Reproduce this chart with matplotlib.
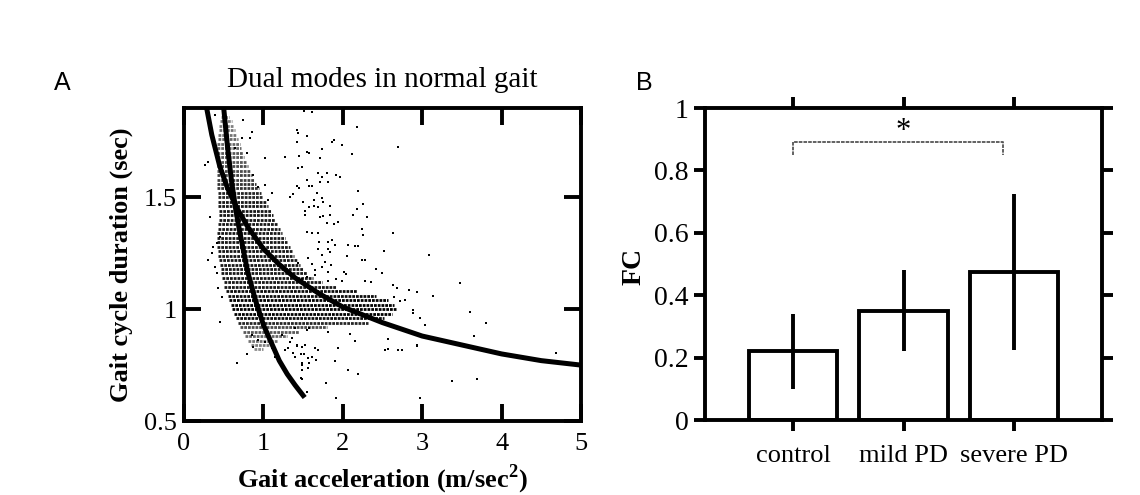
import matplotlib
matplotlib.use('Agg')
import matplotlib.pyplot as plt

plt.rcParams['font.family'] = ['Liberation Serif', 'DejaVu Serif']
plt.rcParams['mathtext.fontset'] = 'custom'
plt.rcParams['mathtext.rm'] = 'Liberation Serif'
plt.rcParams['mathtext.bf'] = 'Liberation Serif:bold'

# ---------------- Panel A data ----------------
# Fitted curves
curve1_x = [0.50, 0.55, 0.60, 0.65, 0.70, 0.80, 0.90, 1.00, 1.10, 1.20, 1.30, 1.40, 1.52]
curve1_y = [1.90, 1.72, 1.57, 1.45, 1.35, 1.17, 1.04, 0.93, 0.85, 0.77, 0.71, 0.66, 0.605]
curve2_x = [0.285, 0.35, 0.45, 0.55, 0.67, 0.80, 1.00, 1.20, 1.40, 1.70, 2.00, 2.50, 3.00, 3.50, 4.00, 4.50, 5.00]
curve2_y = [1.90, 1.78, 1.64, 1.54, 1.45, 1.37, 1.27, 1.20, 1.14, 1.07, 1.01, 0.94, 0.88, 0.84, 0.80, 0.77, 0.75]

# Dense core of the cloud: quantised duration rows with their x extent and darkness
core_y = [1.86, 1.84, 1.82, 1.80, 1.78, 1.76, 1.74, 1.72, 1.70, 1.68, 1.66, 1.64, 1.62,
          1.60, 1.58, 1.56, 1.54, 1.52, 1.50, 1.48, 1.46, 1.44, 1.42, 1.40, 1.38, 1.36,
          1.34, 1.32, 1.30, 1.28, 1.26, 1.24, 1.22, 1.20, 1.18, 1.16, 1.14, 1.12, 1.10,
          1.08, 1.06, 1.04, 1.02, 1.00, 0.98, 0.96, 0.94, 0.92, 0.90, 0.88, 0.86, 0.84, 0.82]
core_xmin = [0.47, 0.45, 0.44, 0.44, 0.43, 0.43, 0.42, 0.42, 0.42, 0.42, 0.41, 0.41, 0.41,
             0.41, 0.42, 0.42, 0.42, 0.43, 0.43, 0.43, 0.43, 0.44, 0.44, 0.44, 0.43, 0.43,
             0.42, 0.42, 0.42, 0.42, 0.43, 0.43, 0.44, 0.45, 0.46, 0.47, 0.48, 0.50, 0.51,
             0.53, 0.55, 0.57, 0.59, 0.61, 0.63, 0.65, 0.68, 0.71, 0.74, 0.77, 0.80, 0.84, 0.88]
core_xmax = [0.57, 0.60, 0.62, 0.64, 0.66, 0.68, 0.70, 0.72, 0.74, 0.76, 0.78, 0.80, 0.83,
             0.86, 0.88, 0.91, 0.94, 0.97, 1.00, 1.03, 1.06, 1.09, 1.12, 1.15, 1.18, 1.21,
             1.24, 1.27, 1.30, 1.33, 1.36, 1.39, 1.42, 1.46, 1.50, 1.55, 1.62, 1.74, 1.92,
             2.18, 2.42, 2.57, 2.64, 2.67, 2.62, 2.52, 2.32, 1.80, 1.45, 1.30, 1.18, 1.08, 1.00]
core_dark = [0.45, 0.50, 0.50, 0.55, 0.55, 0.60, 0.60, 0.60, 0.65, 0.65, 0.65, 0.70, 0.70,
             0.75, 0.75, 0.80, 0.80, 0.85, 0.85, 0.90, 0.90, 0.90, 0.90, 0.90, 0.90, 0.90,
             0.90, 0.90, 0.90, 0.90, 0.90, 0.90, 0.90, 0.90, 0.90, 0.90, 0.90, 0.90, 0.90,
             0.95, 0.95, 1.00, 1.00, 1.00, 1.00, 0.95, 0.85, 0.70, 0.65, 0.60, 0.55, 0.50, 0.45]

# Sparse individual points
pts_x = [1.43, 1.55, 1.42, 1.89, 1.86, 1.99, 2.18, 2.70, 1.74, 1.55, 1.57, 2.11, 1.45, 1.71,
         1.48, 1.43, 1.69, 1.80, 1.74, 1.92, 1.97, 1.55, 1.71, 1.81, 1.42, 1.58, 1.61, 1.45,
         2.19, 1.67, 1.74, 1.64, 1.50, 1.75, 2.25, 1.58, 1.64, 1.69, 1.84, 2.18, 1.53, 1.51,
         1.61,
         1.52, 2.13, 2.30, 1.71, 1.75, 1.84, 1.80, 1.89, 1.94, 2.24, 2.25, 1.55, 1.61, 1.69,
         2.63, 1.70, 1.81, 1.86, 1.90, 2.06, 2.15, 2.19, 1.69, 1.81, 1.84, 2.52, 1.74, 2.05,
         1.56, 1.43, 1.61, 1.77, 2.24, 2.28, 1.85, 1.74, 1.65, 1.81, 2.01, 2.04, 2.42, 2.50,
         1.55, 1.65, 1.81, 1.92, 1.99, 2.28, 2.36, 1.48, 2.63, 2.68, 2.84, 2.93, 2.78, 2.65,
         2.72, 2.88, 2.97,
         1.40, 1.55, 1.58, 1.81, 2.09, 1.42, 1.48, 1.52, 1.65, 1.69, 1.94, 2.15, 2.57, 2.53,
         2.69, 2.74, 2.94, 1.47, 1.51, 1.61, 1.56, 1.66, 1.90, 1.58, 1.48, 1.56, 1.48, 2.06,
         2.19, 1.48, 1.79, 1.55, 1.92, 2.97,
         0.45, 0.87, 0.79, 0.67, 1.31, 1.27, 1.37, 1.40, 1.14, 1.48, 1.47, 0.93, 1.02, 0.86,
         1.23, 1.36, 1.42, 1.11, 1.33,
         0.33, 0.42, 0.30, 0.39, 0.43, 0.48, 0.37, 0.45, 0.35, 0.42,
         0.26, 0.30, 0.74, 0.79, 1.02, 1.27, 0.86, 0.39, 1.42, 1.37, 1.33, 0.93, 1.11, 1.06,
         0.87, 1.02, 0.83, 0.73, 0.64,
         3.09, 3.47, 3.60, 3.80, 3.65, 3.37, 3.69, 2.93, 4.69, 3.13, 2.89, 3.03, 2.57]
pts_y = [1.788, 1.775, 1.748, 1.757, 1.748, 1.735, 1.815, 1.726, 1.717, 1.703, 1.699, 1.694,
         1.685, 1.676, 1.636, 1.632, 1.609, 1.609, 1.591, 1.600, 1.591, 1.578, 1.569, 1.569,
         1.551, 1.551, 1.551, 1.542, 1.529, 1.520, 1.497, 1.489, 1.480, 1.480, 1.471, 1.457,
         1.462, 1.457, 1.462, 1.448, 1.439, 1.887, 1.882,
         1.421, 1.421, 1.412, 1.412, 1.417, 1.421, 1.386, 1.381, 1.390, 1.359, 1.332, 1.345,
         1.341, 1.341, 1.341, 1.301, 1.301, 1.310, 1.287, 1.287, 1.283, 1.283, 1.269, 1.269,
         1.256, 1.260, 1.243, 1.238, 1.229, 1.207, 1.202, 1.211, 1.220, 1.220, 1.198, 1.189,
         1.175, 1.166, 1.166, 1.158, 1.180, 1.162, 1.144, 1.153, 1.126, 1.135, 1.126, 1.126,
         1.122, 1.135, 1.108, 1.095, 1.086, 1.077, 1.041, 1.055, 1.037, 0.997, 0.961,
         0.916, 0.907, 0.916, 0.898, 0.889, 0.840, 0.831, 0.840, 0.827, 0.818, 0.827, 0.858,
         0.867, 0.818, 0.818, 0.818, 0.835, 0.800, 0.800, 0.786, 0.782, 0.773, 0.768, 0.759,
         0.759, 0.737, 0.728, 0.728, 0.710, 0.688, 0.670, 0.630, 0.603, 0.603,
         0.943, 0.831, 0.800, 0.759, 0.827, 0.818, 0.804, 0.786, 0.786, 0.750, 0.692, 0.862,
         0.853, 0.885, 0.885, 0.871, 0.835, 0.827, 0.853,
         1.412, 1.296, 1.220, 1.189, 1.095, 1.055, 1.278, 1.323, 1.251, 1.162,
         1.645, 1.658, 1.846, 1.699, 1.676, 1.681, 1.793, 1.869, 1.802, 1.515, 1.502, 1.547,
         1.520, 1.489, 1.600, 1.556, 1.766, 1.766, 1.721,
         1.243, 1.117, 0.988, 0.938, 0.880, 0.680, 0.688, 0.840, 0.804, 1.059, 0.983, 0.930,
         0.822]

xticks_A = [0, 1, 2, 3, 4, 5]
yticks_A = [0.5, 1, 1.5]
yticklabels_A = ['0.5', '1', '1.5']

# ---------------- Panel B data ----------------
categories = ['control', 'mild PD', 'severe PD']
fc_mean = [0.22, 0.35, 0.475]
fc_err = [0.12, 0.13, 0.25]
yticks_B = [0, 0.2, 0.4, 0.6, 0.8, 1.0]
yticklabels_B = ['0', '0.2', '0.4', '0.6', '0.8', '1']
sig_pair = (1, 2.9)
sig_y = 0.89
sig_drop = 0.85

W, H = 1140, 495
fig = plt.figure(figsize=(W / 100, H / 100), dpi=100)

SPW = 2.8

# ---------------- Panel A ----------------
axA = fig.add_axes([184 / W, 1 - 421 / H, (581 - 184) / W, (421 - 108) / H])
for yv, x0, x1, d in zip(core_y, core_xmin, core_xmax, core_dark):
    axA.hlines(yv, x0, x1, colors='black', alpha=d, linewidth=2.0,
               linestyles=[(0, (1.0, 0.35))], zorder=1)
axA.scatter(pts_x, pts_y, s=2.2, marker='s', color='black', linewidths=0, zorder=2)
axA.plot(curve1_x, curve1_y, color='black', lw=3.6, solid_capstyle='butt', zorder=3)
axA.plot(curve2_x, curve2_y, color='black', lw=3.6, solid_capstyle='butt', zorder=3)
axA.set_xlim(0, 5)
axA.set_ylim(0.5, 1.9)
axA.set_xticks(xticks_A)
axA.set_xticklabels([str(v) for v in xticks_A])
axA.set_yticks(yticks_A)
axA.set_yticklabels(yticklabels_A)
axA.tick_params(direction='in', length=12, width=SPW, top=True, right=True,
                labelsize=19)
axA.tick_params(axis='x', pad=9)
axA.tick_params(axis='y', pad=5)
for s in axA.spines.values():
    s.set_linewidth(SPW)

fig.text(382 / W, 1 - 87 / H, 'Dual modes in normal gait', ha='center', va='baseline',
         fontsize=21)
fig.text(121 / W, 1 - 265 / H, 'Gait cycle duration (sec)', rotation=90, ha='center',
         va='center', fontsize=19, fontweight='bold')
fig.text(382 / W, 1 - 479 / H, r'Gait acceleration (m/sec$^{\mathbf{2}}$)', ha='center',
         va='center', fontsize=19, fontweight='bold')
fig.text(54 / W, 1 - 90 / H, 'A', family=['Liberation Sans', 'DejaVu Sans'],
         fontsize=18, va='baseline')

# ---------------- Panel B ----------------
axB = fig.add_axes([705 / W, 1 - 420 / H, (1102 - 705) / W, (420 - 108) / H])
xpos = list(range(1, len(categories) + 1))
axB.bar(xpos, fc_mean, width=0.8, facecolor='white', edgecolor='black',
        linewidth=SPW, zorder=2)
axB.errorbar(xpos, fc_mean, yerr=fc_err, fmt='none', ecolor='black', elinewidth=SPW,
             capsize=0, zorder=3)
axB.plot([sig_pair[0], sig_pair[0], sig_pair[1], sig_pair[1]],
         [sig_drop, sig_y, sig_y, sig_drop], color='#555555', lw=1.3,
         linestyle=(0, (2, 0.6)), zorder=3)
axB.text((sig_pair[0] + sig_pair[1]) / 2 + 0.05, sig_y - 0.012, '*', ha='center',
         va='bottom', fontsize=22)
axB.set_xlim(0.2, 3.8)
axB.set_ylim(0, 1)
axB.set_xticks(xpos)
axB.set_xticklabels(categories)
axB.set_yticks(yticks_B)
axB.set_yticklabels(yticklabels_B)
axB.tick_params(direction='out', length=8, width=SPW, top=True, right=True,
                labelsize=20)
axB.tick_params(axis='x', pad=10, labelsize=19)
axB.tick_params(axis='y', pad=4)
for s in axB.spines.values():
    s.set_linewidth(SPW)
fig.text(634 / W, 1 - 266 / H, 'FC', rotation=90, ha='center', va='center',
         fontsize=20, fontweight='bold')
fig.text(636 / W, 1 - 90 / H, 'B', family=['Liberation Sans', 'DejaVu Sans'],
         fontsize=18, va='baseline')

fig.savefig('out.png', dpi=100)
